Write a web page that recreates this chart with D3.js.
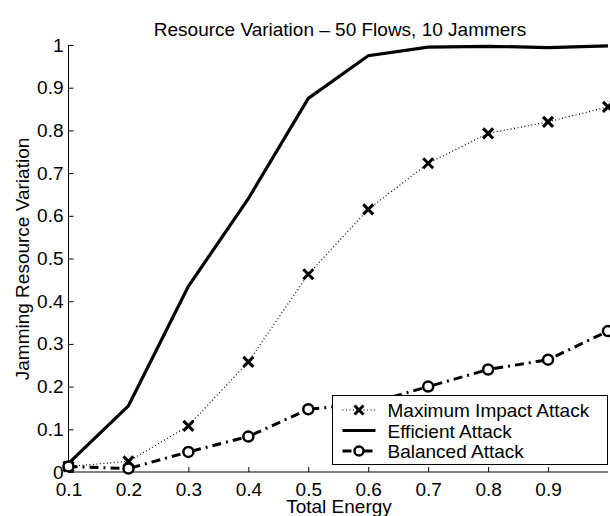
<!DOCTYPE html>
<html>
<head>
<meta charset="utf-8">
<script src="https://cdn.jsdelivr.net/npm/d3@7"></script>
<style>
  body { margin: 0; background: #fff; }
  text { font-family: "Liberation Sans", Arial, sans-serif; }
</style>
</head>
<body>
<div id="chart"></div>
<script>
// data
const energy = [0.1, 0.2, 0.3, 0.4, 0.5, 0.6, 0.7, 0.8, 0.9, 1.0];
const maxImpact = [0.013, 0.025, 0.108, 0.258, 0.463, 0.615, 0.723, 0.793, 0.82, 0.855];
const efficient = [0.02, 0.155, 0.435, 0.64, 0.875, 0.975, 0.995, 0.997, 0.994, 0.998];
const balanced = [0.013, 0.008, 0.047, 0.083, 0.147, 0.16, 0.2, 0.24, 0.263, 0.33];
const xTicks = [0.1, 0.2, 0.3, 0.4, 0.5, 0.6, 0.7, 0.8, 0.9];
const yTicks = [0, 0.1, 0.2, 0.3, 0.4, 0.5, 0.6, 0.7, 0.8, 0.9, 1];

const WIDTH = 610;
const HEIGHT = 516;
const margin = { top: 45, right: 2, bottom: 44, left: 68.5 };
const width = WIDTH - margin.left - margin.right;
const height = HEIGHT - margin.top - margin.bottom;

const root = d3
  .select("#chart")
  .append("svg")
  .attr("width", WIDTH)
  .attr("height", HEIGHT);

const svg = root
  .append("g")
  .attr("transform", `translate(${margin.left}, ${margin.top})`);

const x = d3.scaleLinear().domain([0.1, 1.0]).range([0, width]);
const y = d3.scaleLinear().domain([0, 1]).range([height, 0]);

// axes, matlab style: ticks point inwards
const xAxis = svg
  .append("g")
  .attr("transform", `translate(0, ${height})`)
  .call(d3.axisBottom(x).tickValues(xTicks).tickSize(-5).tickPadding(11).tickFormat(d3.format("")));
xAxis.select(".domain").attr("d", `M0,0H${width}`);

const yAxis = svg
  .append("g")
  .call(d3.axisLeft(y).tickValues(yTicks).tickSize(-5).tickPadding(5).tickFormat(d => (d === 0 || d === 1 ? d : d.toFixed(1))));
yAxis.select(".domain").attr("d", `M0,${height}V0`);

svg.selectAll(".tick text").style("font-size", "19px").attr("fill", "#000");
svg.selectAll(".tick line").attr("stroke", "#000");
svg.selectAll(".domain").attr("stroke", "#000");

const line = vals =>
  d3.line()
    .x((d, i) => x(energy[i]))
    .y(d => y(d))(vals);

// efficient attack
svg.append("path")
  .attr("d", line(efficient))
  .attr("fill", "none")
  .attr("stroke", "#000")
  .attr("stroke-width", 3.2);

// maximum impact attack
svg.append("path")
  .attr("d", line(maxImpact))
  .attr("fill", "none")
  .attr("stroke", "#000")
  .attr("stroke-width", 1.2)
  .attr("stroke-dasharray", "1,2.5");

svg.selectAll(".xmark")
  .data(maxImpact)
  .join("path")
  .attr("class", "xmark")
  .attr("transform", (d, i) => `translate(${x(energy[i])}, ${y(d)})`)
  .attr("d", "M-5,-5L5,5M-5,5L5,-5")
  .attr("stroke", "#000")
  .attr("stroke-width", 3);

// balanced attack
svg.append("path")
  .attr("d", line(balanced))
  .attr("fill", "none")
  .attr("stroke", "#000")
  .attr("stroke-width", 3)
  .attr("stroke-dasharray", "9,5,2,5");

svg.selectAll(".omark")
  .data(balanced)
  .join("circle")
  .attr("class", "omark")
  .attr("cx", (d, i) => x(energy[i]))
  .attr("cy", d => y(d))
  .attr("r", 5)
  .attr("fill", "#fff")
  .attr("stroke", "#000")
  .attr("stroke-width", 2.5);

// title and labels
root.append("text")
  .attr("x", 340)
  .attr("y", 36)
  .attr("text-anchor", "middle")
  .style("font-size", "19px")
  .text("Resource Variation \u2013 50 Flows, 10 Jammers");

root.append("text")
  .attr("x", 339)
  .attr("y", 513)
  .attr("text-anchor", "middle")
  .style("font-size", "19px")
  .text("Total Energy");

root.append("text")
  .attr("transform", "translate(29, 259) rotate(-90)")
  .attr("text-anchor", "middle")
  .style("font-size", "19px")
  .text("Jamming Resource Variation");

// legend
const legend = root.append("g").attr("transform", "translate(332.5, 395.5)");
legend.append("rect")
  .attr("width", 275)
  .attr("height", 69)
  .attr("fill", "#fff")
  .attr("stroke", "#000")
  .attr("stroke-width", 1);

const items = [
  { name: "Maximum Impact Attack", w: 1.2, dash: "1,2.5", mark: "x" },
  { name: "Efficient Attack", w: 3.2, dash: null, mark: null },
  { name: "Balanced Attack", w: 3, dash: "9,5,2,5", mark: "o" }
];

items.forEach((it, i) => {
  const yy = 14.5 + i * 20.5;
  legend.append("line")
    .attr("x1", 10).attr("x2", 43)
    .attr("y1", yy).attr("y2", yy)
    .attr("stroke", "#000")
    .attr("stroke-width", it.w)
    .attr("stroke-dasharray", it.dash);
  if (it.mark === "x") {
    legend.append("path")
      .attr("transform", `translate(26.5, ${yy})`)
      .attr("d", "M-4.5,-4.5L4.5,4.5M-4.5,4.5L4.5,-4.5")
      .attr("stroke", "#000")
      .attr("stroke-width", 3);
  } else if (it.mark === "o") {
    legend.append("circle")
      .attr("cx", 26.5).attr("cy", yy).attr("r", 4.5)
      .attr("fill", "#fff")
      .attr("stroke", "#000")
      .attr("stroke-width", 2.5);
  }
  legend.append("text")
    .attr("x", 55)
    .attr("y", yy + 7)
    .style("font-size", "19px")
    .text(it.name);
});
</script>
</body>
</html>
